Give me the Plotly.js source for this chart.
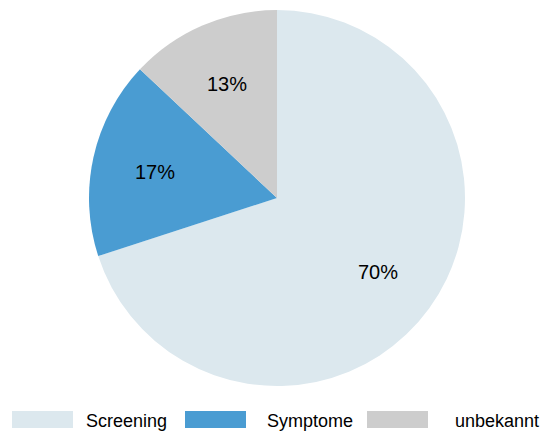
<!DOCTYPE html>
<html><head><meta charset="utf-8">
<script src="https://cdn.plot.ly/plotly-3.0.1.min.js"></script>
<style>body{margin:0;padding:0}#chart{width:543px;height:431px}</style>
</head><body><div id="chart"></div>
<script>
const labels = ["Screening", "Symptome", "unbekannt"];
const values = [70, 17, 13];
const colors = ["#dce8ee", "#4a9cd2", "#cdcdcd"];

const W = 543, H = 431;
const CX = 277, CY = 198, R = 188;
const FONT = "Liberation Sans, Arial, sans-serif";
const legendX = [12, 185, 367];
const legendTextX = [84, 265, 453];
const shapes = [], annotations = [];
labels.forEach((l, i) => {
  shapes.push({type: "rect", xref: "paper", yref: "paper",
    x0: legendX[i] / W, x1: (legendX[i] + 61) / W,
    y0: 1 - 428 / H, y1: 1 - 411 / H,
    fillcolor: colors[i], line: {width: 0}});
  annotations.push({xref: "paper", yref: "paper", x: legendTextX[i] / W, y: 1 - 421 / H,
    xanchor: "left", yanchor: "middle", text: l, showarrow: false,
    font: {family: FONT, size: 18, color: "#000"}});
});

// percentage labels placed along each slice's mid-angle
const total = values.reduce((a, b) => a + b, 0);
let cum = 0;
values.forEach((v) => {
  const mid = (cum + v / 2) / total * 2 * Math.PI;
  cum += v;
  const r = 0.665 * R;
  annotations.push({xref: "paper", yref: "paper",
    x: (CX + r * Math.sin(mid)) / W, y: 1 - (CY - r * Math.cos(mid) + 1) / H,
    xanchor: "center", yanchor: "middle", showarrow: false,
    text: Math.round(v / total * 100) + "%",
    font: {family: FONT, size: 20, color: "#000"}});
});

Plotly.newPlot("chart", [{
  type: "pie", labels: labels, values: values,
  marker: {colors: colors, line: {width: 0}},
  sort: false, direction: "clockwise", rotation: 0,
  textinfo: "none",
  domain: {x: [(CX - R) / W, (CX + R) / W], y: [1 - (CY + R) / H, 1 - (CY - R) / H]},
  hoverinfo: "none", showlegend: false
}], {
  width: W, height: H, margin: {l: 0, r: 0, t: 0, b: 0},
  paper_bgcolor: "#fff", showlegend: false,
  shapes: shapes, annotations: annotations
}, {staticPlot: true});
</script></body></html>
